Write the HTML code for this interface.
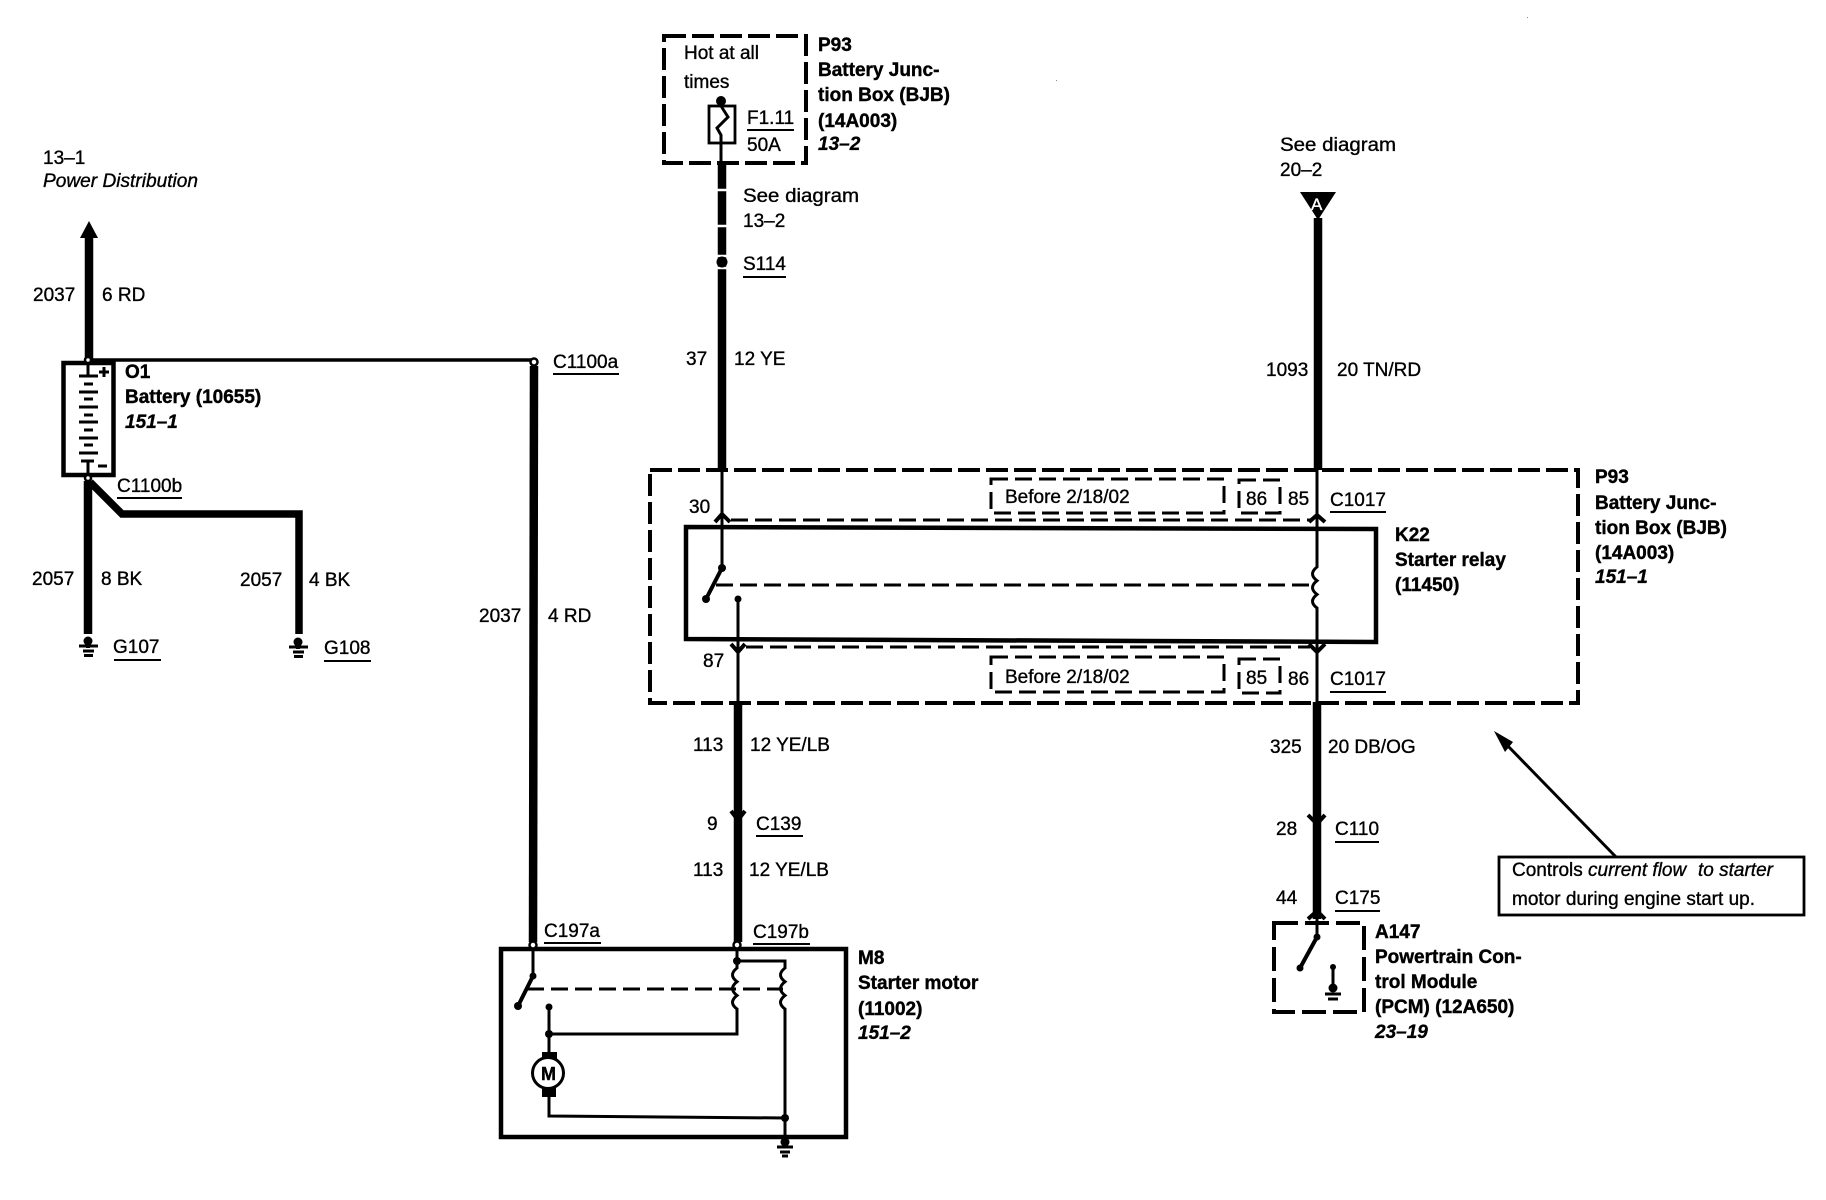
<!DOCTYPE html>
<html><head><meta charset="utf-8"><title>Starter wiring diagram</title>
<style>
html,body{margin:0;padding:0;background:#fff}
svg{display:block}
text{font-family:"Liberation Sans",Arial,sans-serif;font-size:19px;fill:#000;stroke:#000;stroke-width:.35px}
.b{font-weight:bold;stroke-width:.4px}
.bi{font-weight:bold;font-style:italic}
.i{font-style:italic}
.w{fill:none;stroke:#000;stroke-width:8.5}
.t{fill:none;stroke:#000;stroke-width:3}
.u{fill:none;stroke:#000;stroke-width:2}
.d{fill:none;stroke:#000;stroke-width:4;stroke-dasharray:22 6}
.d2{fill:none;stroke:#000;stroke-width:3;stroke-dasharray:17 7}
.d3{fill:none;stroke:#000;stroke-width:3;stroke-dasharray:24 7}
.box{fill:none;stroke:#000;stroke-width:4.5}
.f{fill:#000;stroke:none}
.c{fill:#fff;stroke:#000;stroke-width:2.5}
.v{fill:none;stroke:#000;stroke-width:4}
</style></head><body>
<svg width="1826" height="1200" viewBox="0 0 1826 1200" xmlns="http://www.w3.org/2000/svg">
<rect width="1826" height="1200" fill="#fff"/>

<!-- Left: power distribution + battery -->
<text x="43" y="164">13–1</text>
<text x="43" y="187" class="i" textLength="155" lengthAdjust="spacingAndGlyphs">Power Distribution</text>
<path class="w" d="M89 236V360"/>
<polygon class="f" points="89,221 98,238 80,238"/>
<path d="M88 360H534" fill="none" stroke="#000" stroke-width="3.5"/>
<text x="33" y="301">2037</text><text x="102" y="301">6 RD</text>
<rect x="63.500" y="363" width="50" height="112" class="box"/>
<path class="t" d="M88 360V376M79 376H98M84 384H93M79 392H98M84 399H93M79 407H98M84 415H93M79 422H98M84 430H93M79 438H98M84 445H93M79 453H98M81 461H94M88 461V475"/>
<path class="t" d="M99 372H109M104 367V377M98 466H107"/>
<circle class="c" cx="88" cy="360" r="3"/><circle class="c" cx="88" cy="478" r="3"/>
<text x="125" y="378" class="b">O1</text>
<text x="125" y="403" class="b">Battery (10655)</text>
<text x="125" y="428" class="bi">151–1</text>
<circle class="c" cx="534" cy="362" r="3.500"/>
<text x="553" y="368">C1100a</text><path class="u" d="M553 374H619"/>
<text x="117" y="492">C1100b</text><path class="u" d="M117 498H182"/>
<path class="w" d="M88 481V634"/>
<path fill="none" stroke="#000" stroke-width="7.5" d="M90 482L122 514H299V634"/>
<text x="32" y="585">2057</text><text x="101" y="585">8 BK</text>
<text x="240" y="586">2057</text><text x="309" y="586">4 BK</text>
<!-- grounds -->
<g><circle class="f" cx="88" cy="641" r="4.500"/><path d="M88 640V648" stroke="#000" stroke-width="4"/><path class="t" d="M79 646H98M83 651H94M84 655.500H93"/></g>
<g><circle class="f" cx="298" cy="642" r="4.500"/><path d="M298 641V649" stroke="#000" stroke-width="4"/><path class="t" d="M289 647H308M293 652H304M294 656.500H303"/></g>
<text x="113" y="653">G107</text><path class="u" d="M114 660H161"/>
<text x="324" y="654">G108</text><path class="u" d="M324 661H371"/>

<!-- C1100a wire -->
<path class="w" d="M534 366L533 942"/>
<text x="479" y="622">2037</text><text x="548" y="622">4 RD</text>

<!-- Fuse box -->
<rect x="664" y="36" width="142" height="127" class="d"/>
<text x="684" y="59">Hot at all</text><text x="684" y="88">times</text>
<circle class="f" cx="721" cy="101" r="5"/>
<rect x="709" y="106" width="26" height="37" fill="none" stroke="#000" stroke-width="2.800"/>
<path class="t" d="M721 101V106L728 117L717 128L721 135V163"/>
<text x="747" y="124">F1.11</text><path class="u" d="M747 130H794"/>
<text x="747" y="151">50A</text>
<text x="818" y="51" class="b">P93</text>
<text x="818" y="76" class="b">Battery Junc-</text>
<text x="818" y="101" class="b">tion Box (BJB)</text>
<text x="818" y="127" class="b">(14A003)</text>
<text x="818" y="150" class="bi">13–2</text>
<path class="w" d="M722 163V470"/>
<path stroke="#fff" stroke-width="2.500" d="M716 190H728M716 226H728M716 256H728M716 268H728" fill="none"/>
<circle class="f" cx="722" cy="262" r="5.500"/>
<text x="743" y="202" textLength="116" lengthAdjust="spacingAndGlyphs">See diagram</text><text x="743" y="227">13–2</text>
<text x="743" y="270">S114</text><path class="u" d="M743 277H786"/>
<text x="686" y="365">37</text><text x="734" y="365">12 YE</text>

<!-- Right top wire -->
<text x="1280" y="151" textLength="116" lengthAdjust="spacingAndGlyphs">See diagram</text><text x="1280" y="176">20–2</text>
<polygon class="f" points="1300,192 1336,192 1318,220"/>
<text x="1311" y="210" style="fill:#fff;stroke:#fff;font-size:17px">A</text>
<path class="w" d="M1318 218V470"/>
<text x="1266" y="376">1093</text><text x="1337" y="376">20 TN/RD</text>

<!-- Big dashed box -->
<path class="d" d="M650 470H1578V703H650Z"/>
<text x="1595" y="483" class="b">P93</text>
<text x="1595" y="509" class="b">Battery Junc-</text>
<text x="1595" y="534" class="b">tion Box (BJB)</text>
<text x="1595" y="559" class="b">(14A003)</text>
<text x="1595" y="583" class="bi">151–1</text>

<!-- Before boxes -->
<rect x="991" y="479" width="233" height="34" class="d2"/>
<text x="1005" y="503">Before 2/18/02</text>
<rect x="1239" y="480" width="41" height="33" class="d2"/>
<text x="1246" y="505">86</text><text x="1288" y="505">85</text>
<text x="1330" y="506">C1017</text><path class="u" d="M1330 512H1386"/>
<rect x="991" y="657" width="233" height="35" class="d2"/>
<text x="1005" y="683">Before 2/18/02</text>
<rect x="1239" y="659" width="41" height="34" class="d2"/>
<text x="1246" y="684">85</text><text x="1288" y="685">86</text>
<text x="1330" y="685">C1017</text><path class="u" d="M1330 692H1386"/>

<!-- Relay -->
<path class="box" d="M686 527L1376 529V642L686 639Z"/>
<text x="689" y="513">30</text><text x="703" y="667">87</text>
<path class="t" d="M722 470V568"/>
<path class="v" d="M715 522L722 514L730 522"/>
<path class="t" d="M731 520H1310" stroke-dasharray="17 7"/>
<circle class="f" cx="722" cy="568" r="4"/>
<path class="v" d="M722 568L706 599"/><circle class="f" cx="706" cy="599" r="4"/>
<path class="t" d="M716 585H1312" stroke-dasharray="17 7"/>
<circle class="f" cx="738" cy="599" r="3.500"/>
<path class="t" d="M738 599V702"/>
<path class="v" d="M731 644L738 652L745 644"/>
<path class="t" d="M746 647H1310" stroke-dasharray="17 7"/>
<path class="t" d="M1317 470V567q-9 7 0 13.700q-9 7 0 13.700q-9 7 0 13.600V702"/>
<path class="v" d="M1309 522L1317 515L1325 522M1309 644L1317 652L1325 644"/>
<text x="1395" y="541" class="b">K22</text>
<text x="1395" y="566" class="b">Starter relay</text>
<text x="1395" y="591" class="b">(11450)</text>

<!-- Lower wires -->
<path class="w" d="M738 702V942"/>
<path class="v" d="M731 811L738 820L745 811"/>
<text x="693" y="751">113</text><text x="750" y="751">12 YE/LB</text>
<text x="707" y="830">9</text><text x="756" y="830">C139</text><path class="u" d="M756 836H803"/>
<text x="693" y="876">113</text><text x="749" y="876">12 YE/LB</text>

<path class="w" d="M1317 702V919"/>
<path class="v" d="M1308 815L1317 824L1325 815M1308 919L1317 911L1325 919"/>
<text x="1270" y="753">325</text><text x="1328" y="753">20 DB/OG</text>
<text x="1276" y="835">28</text><text x="1335" y="835">C110</text><path class="u" d="M1335 842H1379"/>
<text x="1276" y="904">44</text><text x="1335" y="904">C175</text><path class="u" d="M1335 911H1380"/>

<!-- Note -->
<rect x="1499" y="857" width="305" height="58" fill="none" stroke="#000" stroke-width="2.800"/>
<text x="1512" y="876">Controls</text>
<text x="1588" y="876" class="i">current flow</text>
<text x="1698" y="876" class="i">to starter</text>
<text x="1512" y="905" textLength="243" lengthAdjust="spacingAndGlyphs">motor during engine start up.</text>
<path d="M1616 857L1505 743" fill="none" stroke="#000" stroke-width="3"/>
<polygon class="f" points="1494,731 1513,742 1505,752"/>

<!-- PCM -->
<rect x="1274" y="923" width="90" height="89" class="d3" style="stroke-width:4"/>
<path class="t" d="M1317 919V937"/>
<circle class="f" cx="1317" cy="937" r="3.500"/>
<path class="v" d="M1317 937L1300 968"/><circle class="f" cx="1300" cy="968" r="3.500"/>
<circle class="f" cx="1333" cy="967" r="3"/><path class="t" d="M1333 967V990"/>
<circle class="f" cx="1333" cy="988" r="4.500"/>
<path class="t" d="M1325 994H1341M1328 999H1338"/>
<text x="1375" y="938" class="b">A147</text>
<text x="1375" y="963" class="b">Powertrain Con-</text>
<text x="1375" y="988" class="b">trol Module</text>
<text x="1375" y="1013" class="b">(PCM) (12A650)</text>
<text x="1375" y="1038" class="bi">23–19</text>

<!-- Starter motor -->
<rect x="501" y="949" width="345" height="188" class="box"/>
<circle class="c" cx="533" cy="945" r="3.500"/><circle class="c" cx="737" cy="945" r="3.500"/>
<path class="t" d="M533 949V976"/><circle class="f" cx="533" cy="976" r="3.500"/>
<path class="v" d="M533 976L518 1006"/><circle class="f" cx="518" cy="1006" r="4"/>
<path class="t" d="M527 989H783" stroke-dasharray="17 7"/>
<path class="t" d="M737 949V968q-9 7 0 13.700q-9 7 0 13.700q-9 7 0 13.600V1034H549"/>
<circle class="f" cx="737" cy="961" r="4"/>
<path class="t" d="M737 961H785V968q-9 7 0 13.700q-9 7 0 13.700q-9 7 0 13.600V1142"/>
<circle class="f" cx="549" cy="1007" r="3.500"/><circle class="f" cx="549" cy="1034" r="4"/>
<path class="t" d="M549 1007V1052"/>
<circle cx="548" cy="1073" r="15.500" fill="#fff" stroke="#000" stroke-width="3"/>
<rect x="542" y="1052" width="15" height="7" class="f"/><rect x="542" y="1088" width="14" height="9" class="f"/>
<text x="541" y="1080" class="b" style="font-size:18px">M</text>
<path class="t" d="M549 1097V1116L785 1118"/>
<circle class="f" cx="785" cy="1118" r="4"/>
<circle class="f" cx="785" cy="1142" r="4.500"/>
<path class="t" d="M777 1147H793M780 1152H790M782 1156H788"/>
<text x="544" y="937">C197a</text><path class="u" d="M544 943H601"/>
<text x="753" y="938">C197b</text><path class="u" d="M753 944H810"/>
<text x="858" y="964" class="b">M8</text>
<text x="858" y="989" class="b">Starter motor</text>
<text x="858" y="1015" class="b">(11002)</text>
<text x="858" y="1039" class="bi">151–2</text>
<rect x="1527" y="17" width="1" height="1" fill="#888"/><rect x="1056" y="80" width="1" height="1" fill="#888"/>
</svg>
</body></html>
